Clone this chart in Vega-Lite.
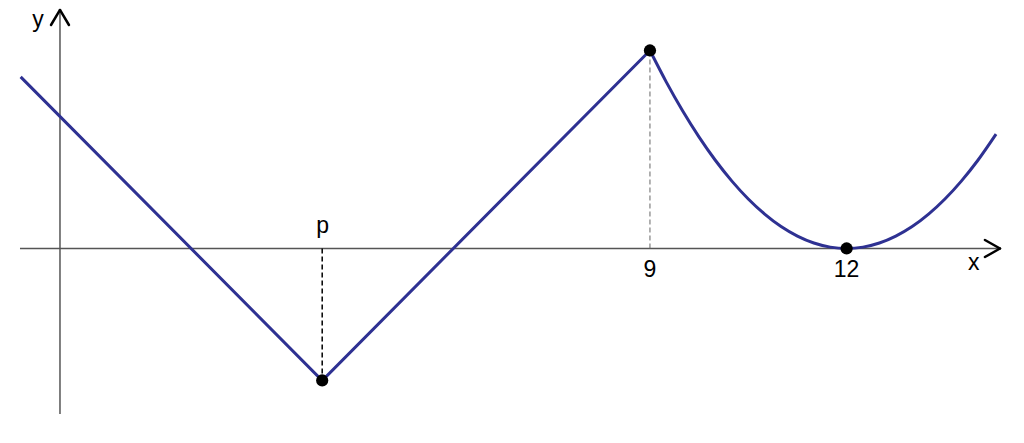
{
  "$schema": "https://vega.github.io/schema/vega-lite/v6.json",
  "width": 1024,
  "height": 443,
  "autosize": {"type": "fit", "contains": "padding"},
  "padding": 0,
  "background": "white",
  "config": {"view": {"stroke": null}},
  "datasets": {
    "axisLines": [
      {"x": -0.61, "y": 0, "x2": 14.34, "y2": 0},
      {"x": 0, "y": -2.508, "x2": 0, "y2": 3.614}
    ],
    "arrowHeads": [
      {"x": 14.11, "y": 0.129, "x2": 14.34, "y2": 0},
      {"x": 14.11, "y": -0.129, "x2": 14.34, "y2": 0},
      {"x": -0.137, "y": 3.386, "x2": 0, "y2": 3.614},
      {"x": 0.137, "y": 3.386, "x2": 0, "y2": 3.614}
    ],
    "guideP": [{"x": 4, "y": 0, "x2": 4, "y2": -2}],
    "guide9": [{"x": 9, "y": 0, "x2": 9, "y2": 3}],
    "vShape": [
      {"x": -0.6, "y": 2.6},
      {"x": 4, "y": -2},
      {"x": 9, "y": 3}
    ],
    "parabola": [
      {"x": 9, "y": 3},
      {"x": 9.25, "y": 2.521},
      {"x": 9.5, "y": 2.083},
      {"x": 9.75, "y": 1.688},
      {"x": 10, "y": 1.333},
      {"x": 10.25, "y": 1.021},
      {"x": 10.5, "y": 0.75},
      {"x": 10.75, "y": 0.521},
      {"x": 11, "y": 0.333},
      {"x": 11.25, "y": 0.188},
      {"x": 11.5, "y": 0.083},
      {"x": 11.75, "y": 0.021},
      {"x": 12, "y": 0},
      {"x": 12.25, "y": 0.021},
      {"x": 12.5, "y": 0.083},
      {"x": 12.75, "y": 0.188},
      {"x": 13, "y": 0.333},
      {"x": 13.25, "y": 0.521},
      {"x": 13.5, "y": 0.75},
      {"x": 13.75, "y": 1.021},
      {"x": 14, "y": 1.333},
      {"x": 14.28, "y": 1.733}
    ],
    "dots": [
      {"x": 4, "y": -2},
      {"x": 9, "y": 3},
      {"x": 12, "y": 0}
    ],
    "labels": [
      {"x": -0.336, "y": 3.35, "text": "y"},
      {"x": 4.005, "y": 0.235, "text": "p"},
      {"x": 9, "y": -0.432, "text": "9"},
      {"x": 12, "y": -0.432, "text": "12"},
      {"x": 13.94, "y": -0.326, "text": "x"}
    ]
  },
  "encoding": {
    "x": {
      "field": "x",
      "type": "quantitative",
      "scale": {"domain": [-0.915, 14.706], "nice": false, "zero": false},
      "axis": null
    },
    "y": {
      "field": "y",
      "type": "quantitative",
      "scale": {"domain": [-2.947, 3.765], "nice": false, "zero": false},
      "axis": null
    }
  },
  "layer": [
    {
      "data": {"name": "axisLines"},
      "mark": {"type": "rule", "color": "#555555", "strokeWidth": 1.5},
      "encoding": {"x2": {"field": "x2"}, "y2": {"field": "y2"}}
    },
    {
      "data": {"name": "arrowHeads"},
      "mark": {"type": "rule", "color": "#000000", "strokeWidth": 2.5, "strokeCap": "round"},
      "encoding": {"x2": {"field": "x2"}, "y2": {"field": "y2"}}
    },
    {
      "data": {"name": "guideP"},
      "mark": {"type": "rule", "color": "#000000", "strokeWidth": 1.5, "strokeDash": [5, 3]},
      "encoding": {"x2": {"field": "x2"}, "y2": {"field": "y2"}}
    },
    {
      "data": {"name": "guide9"},
      "mark": {"type": "rule", "color": "#666666", "strokeWidth": 1, "strokeDash": [5, 3]},
      "encoding": {"x2": {"field": "x2"}, "y2": {"field": "y2"}}
    },
    {
      "data": {"name": "vShape"},
      "mark": {"type": "line", "color": "#2e3192", "strokeWidth": 3, "interpolate": "linear"},
      "encoding": {"order": {"field": "x", "type": "quantitative"}}
    },
    {
      "data": {"name": "parabola"},
      "mark": {"type": "line", "color": "#2e3192", "strokeWidth": 3, "interpolate": "monotone"},
      "encoding": {"order": {"field": "x", "type": "quantitative"}}
    },
    {
      "data": {"name": "dots"},
      "mark": {"type": "circle", "color": "#000000", "opacity": 1, "size": 150}
    },
    {
      "data": {"name": "labels"},
      "mark": {
        "type": "text",
        "font": "Liberation Sans",
        "fontSize": 23,
        "color": "#000000",
        "align": "center",
        "baseline": "alphabetic"
      },
      "encoding": {"text": {"field": "text"}}
    }
  ]
}
